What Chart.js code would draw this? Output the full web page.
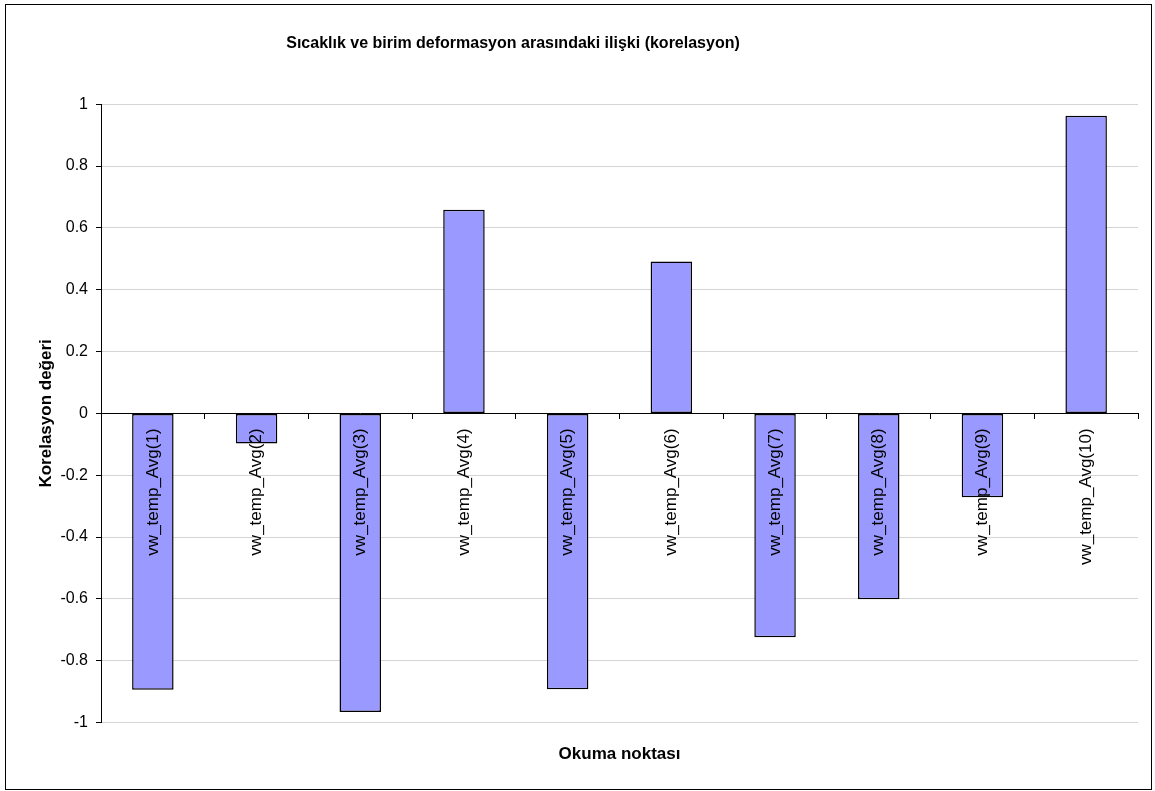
<!DOCTYPE html>
<html>
<head>
<meta charset="utf-8">
<title>Korelasyon</title>
<script src="https://cdn.jsdelivr.net/npm/chart.js@4"></script>
<style>
  body { margin: 0; background: #fff; }
  #frame {
    position: absolute;
    left: 5px;
    top: 4px;
    width: 1145px;
    height: 784px;
    border: 1px solid #000;
  }
  #korelasyonChart { display: block; }
</style>
</head>
<body>
<div id="frame">
  <canvas id="korelasyonChart" width="1145" height="784"></canvas>
</div>
<script>
// okuma noktaları ve korelasyon değerleri
const categories = [
  'vw_temp_Avg(1)', 'vw_temp_Avg(2)', 'vw_temp_Avg(3)', 'vw_temp_Avg(4)', 'vw_temp_Avg(5)',
  'vw_temp_Avg(6)', 'vw_temp_Avg(7)', 'vw_temp_Avg(8)', 'vw_temp_Avg(9)', 'vw_temp_Avg(10)'
];
const korelasyon = [-0.894, -0.097, -0.966, 0.659, -0.892, 0.491, -0.724, -0.601, -0.271, 0.963];
const yTicks = [-1, -0.8, -0.6, -0.4, -0.2, 0, 0.2, 0.4, 0.6, 0.8, 1];

const fontFamily = "'Liberation Sans', Arial, sans-serif";

// başlık grafiğin biraz solunda ortalanıyor
const titleShift = {
  id: 'titleShift',
  afterLayout(chart) {
    const t = chart.titleBlock;
    if (t) {
      t.left = 0;
      t.right = 1014;
    }
  }
};

const ctx = document.getElementById('korelasyonChart');

new Chart(ctx, {
  type: 'bar',
  data: {
    labels: categories,
    datasets: [
      {
        label: 'Korelasyon',
        data: korelasyon,
        backgroundColor: '#9999ff',
        borderColor: '#000000',
        borderWidth: 1.5,
        borderSkipped: false,
        categoryPercentage: 1,
        barPercentage: 0.4
      }
    ]
  },
  options: {
    responsive: false,
    animation: false,
    layout: { padding: { left: 0, right: 13, top: 0, bottom: 0 } },
    scales: {
      x: {
        position: { y: 0 },
        grid: {
          drawOnChartArea: false,
          drawTicks: true,
          tickLength: 5,
          tickColor: '#000000',
          offset: true,
          z: 1
        },
        border: { display: true, color: '#000000', width: 1, z: 1 },
        ticks: {
          z: 1,
          autoSkip: false,
          minRotation: 90,
          maxRotation: 90,
          padding: 10,
          color: '#000000',
          font: { family: fontFamily, size: 17 }
        }
      },
      y: {
        min: -1,
        max: 1,
        afterBuildTicks: scale => {
          scale.ticks = yTicks.map(v => ({ value: v }));
        },
        afterFit: scale => {
          scale.width = 95;
        },
        grid: {
          color: '#d4d4d4',
          tickColor: '#000000',
          tickLength: 5
        },
        border: { display: true, color: '#000000', width: 1 },
        ticks: {
          padding: 8,
          color: '#000000',
          font: { family: fontFamily, size: 16 },
          callback: v => String(v)
        },
        title: {
          display: true,
          text: 'Korelasyon değeri',
          color: '#000000',
          padding: { top: 30, bottom: 0 },
          font: { family: fontFamily, size: 17, weight: 'bold' }
        }
      }
    },
    plugins: {
      legend: { display: false },
      tooltip: { enabled: false },
      title: {
        display: true,
        text: 'Sıcaklık ve birim deformasyon arasındaki ilişki (korelasyon)',
        color: '#000000',
        padding: { top: 29, bottom: 51 },
        font: { family: fontFamily, size: 16, weight: 'bold' }
      },
      subtitle: {
        display: true,
        position: 'bottom',
        fullSize: false,
        text: 'Okuma noktası',
        color: '#000000',
        padding: { top: 22, bottom: 24 },
        font: { family: fontFamily, size: 17, weight: 'bold' }
      }
    }
  },
  plugins: [titleShift]
});
</script>
</body>
</html>
